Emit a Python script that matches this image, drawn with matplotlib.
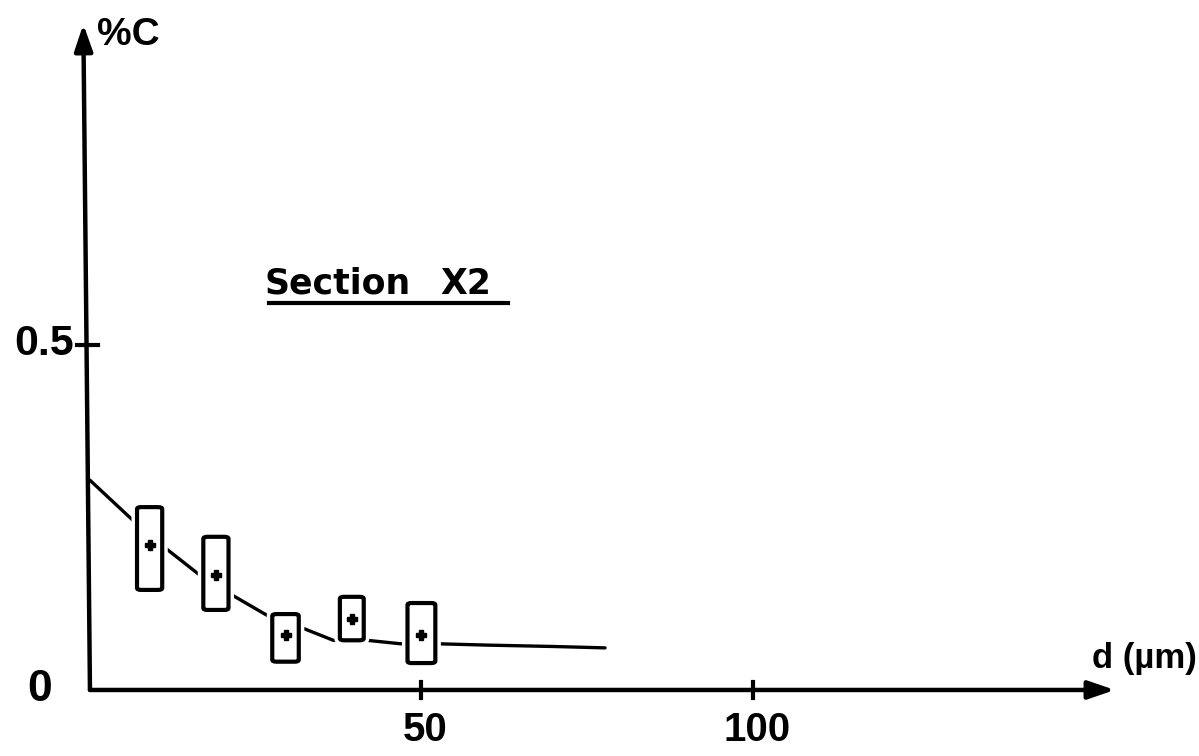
import matplotlib
matplotlib.use("Agg")
import matplotlib.pyplot as plt
from matplotlib.patches import FancyBboxPatch

plt.rcParams['font.family'] = ['Liberation Sans', 'DejaVu Sans']

# measured carbon content along depth, section X2
depth = [9, 19, 29.5, 39.5, 50]
carbon = [0.210, 0.167, 0.080, 0.103, 0.080]
carbon_lo = [0.145, 0.116, 0.041, 0.072, 0.039]
carbon_hi = [0.265, 0.222, 0.110, 0.135, 0.126]
box_halfwidth = [1.9, 1.9, 2.0, 1.8, 2.1]

# smoothed profile drawn through the points
curve_d = [0, 6.8, 11.6, 16.9, 21.9, 27.1, 32.0, 36.7, 41.8, 46.8, 52.3, 60, 70, 77.7]
curve_c = [0.304, 0.243, 0.204, 0.164, 0.135, 0.106, 0.090, 0.072, 0.072, 0.067, 0.067, 0.065, 0.063, 0.061]

x_ticks = [50, 100]
y_ticks = [0.5]

fig = plt.figure(figsize=(11.99, 7.56), dpi=100)
ax = fig.add_axes([0, 0, 1, 1])
ax.set_xlim(-13.57, 167.3)
ax.set_ylim(-0.0957, 1.0)
ax.axis('off')

# axes with arrow heads
ax.annotate('', xy=(154.6, 0), xytext=(0, 0),
            arrowprops=dict(arrowstyle='-|>,head_length=1.6,head_width=0.55',
                            lw=3.2, color='black', shrinkA=0, shrinkB=0))
ax.annotate('', xy=(-1.0, 0.965), xytext=(0, 0),
            arrowprops=dict(arrowstyle='-|>,head_length=1.6,head_width=0.55',
                            lw=3.2, color='black', shrinkA=0, shrinkB=0))

for xt in x_ticks:
    ax.plot([xt, xt], [-0.012, 0.012], color='black', lw=3)
for yt in y_ticks:
    ax.plot([-2.0, 1.2], [yt, yt], color='black', lw=3)

# profile curve
ax.plot(curve_d, curve_c, color='black', lw=2.4, solid_capstyle='round', zorder=2)

# error boxes; a white halo leaves a small gap where the curve meets them
for d, c, lo, hi, hw in zip(depth, carbon, carbon_lo, carbon_hi, box_halfwidth):
    for ec, lw, z in [('white', 8, 2.5), ('black', 3, 3)]:
        box = FancyBboxPatch((d - hw, lo), 2 * hw, hi - lo,
                             boxstyle='round,pad=0,rounding_size=0.6',
                             mutation_aspect=0.005,
                             facecolor='white', edgecolor=ec, lw=lw, zorder=z)
        ax.add_patch(box)
    ax.plot(d, c, marker='P', color='black', markersize=7, zorder=4)

# labels
bold = dict(fontweight='bold', color='black')
ax.text(1.1, 0.9755, '%C', fontsize=28, ha='left', va='top', **bold)
ax.text(-2.4, 0.502, '0.5', fontsize=31, ha='right', va='center', **bold)
ax.text(-7.6, 0.0, '0', fontsize=32, ha='center', va='center', **bold)
for xt in x_ticks:
    ax.text(xt + 0.6, -0.058, str(xt), fontsize=29, ha='center', va='center', **bold)
ax.text(167, 0.046, 'd (µm)', fontsize=25, ha='right', va='center', **bold)

ax.text(26.4, 0.574, 'Section', fontsize=25, ha='left', va='baseline',
        family='DejaVu Sans', **bold)
ax.text(52.8, 0.574, 'X2', fontsize=25, ha='left', va='baseline',
        family='DejaVu Sans', **bold)
ax.plot([27, 63.1], [0.561, 0.561], color='black', lw=3)

fig.savefig('out.png', dpi=100)
